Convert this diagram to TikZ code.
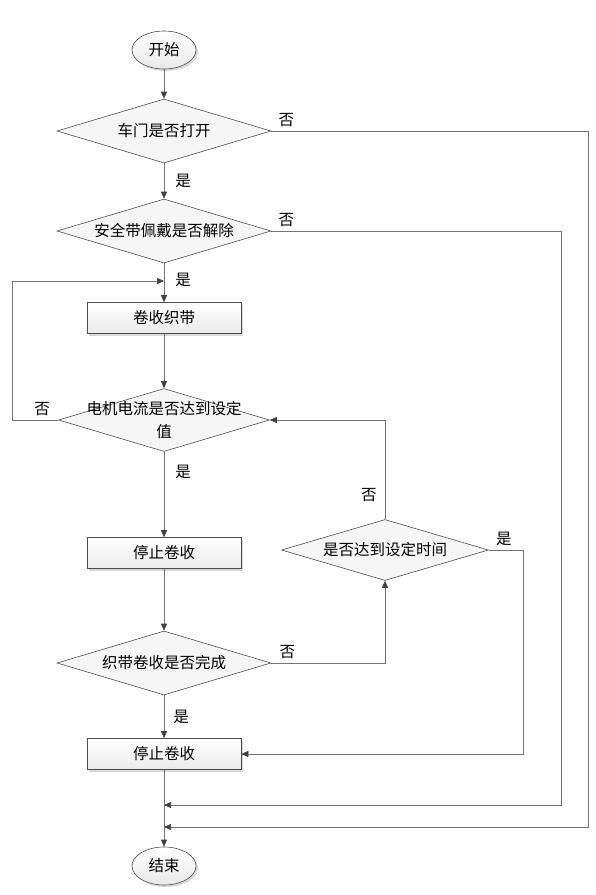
\documentclass[tikz,border=0pt]{standalone}
\usepackage{fontspec}
\newfontfamily\cjk{Noto Sans CJK SC}
\usetikzlibrary{shapes.geometric,arrows.meta,shadows}

\begin{document}
\begin{tikzpicture}[x=1pt, y=-1pt, line width=0.6pt,
  font=\cjk\fontsize{15.5}{23}\selectfont,
  terminal/.style={ellipse, draw=black!70, top color=white, bottom color=gray!18,
    minimum width=64pt, minimum height=38pt, inner sep=0pt,
    drop shadow={shadow xshift=2pt, shadow yshift=-2pt, fill=black!30}},
  process/.style={rectangle, draw=black!70, top color=white, bottom color=gray!16,
    minimum width=154pt, minimum height=31pt, inner sep=0pt,
    drop shadow={shadow xshift=2pt, shadow yshift=-2pt, fill=black!30}},
  decision/.style={diamond, aspect=3.34, draw=black!70, fill=gray!7, inner sep=0pt,
    minimum width=214pt, minimum height=64pt},
  flow/.style={draw=black!55, -{Triangle[length=7pt, width=6pt, color=black!75]}},
  lbl/.style={inner sep=4pt}]
  \useasboundingbox (0,0) rectangle (595,895);

  % nodes
  \node[terminal] (start) at (164,50) {开始};
  \node[decision] (door) at (164,131) {车门是否打开};
  \node[decision] (belt) at (164,231) {安全带佩戴是否解除};
  \node[process] (wind) at (164,318) {卷收织带};
  \node[decision, minimum width=211pt, minimum height=63pt] (motor) at (164,420)
    {\smash{\raisebox{-5pt}{\begin{tabular}{@{}c@{}}电机电流是否达到设定\\值\end{tabular}}}};
  \node[process] (stop1) at (164,553) {停止卷收};
  \node[decision, minimum width=207pt, minimum height=61pt] (timer) at (385,550) {是否达到设定时间};
  \node[decision] (done) at (164,663) {织带卷收是否完成};
  \node[process] (stop2) at (164,754) {停止卷收};
  \node[terminal] (end) at (164,866) {结束};

  \coordinate (loop) at (164,281);
  \coordinate (m1) at (164,805);
  \coordinate (m2) at (164,827);

  % main line
  \draw[flow] (start) -- (door);
  \draw[flow] (door) -- node[lbl, right=7pt] {是} (belt);
  \draw[flow] (belt) -- node[lbl, pos=0.42, right=7pt] {是} (wind);
  \draw[flow] (wind) -- (motor);
  \draw[flow] (motor) -- node[lbl, pos=0.23, right=7pt] {是} (stop1);
  \draw[flow] (stop1) -- (done);
  \draw[flow] (done) -- node[lbl, right=5pt] {是} (stop2);
  \draw[flow] (stop2) -- (end);

  % branches
  \draw[flow] (door.east) node[lbl, anchor=south west, xshift=3pt] {否} -- ++(317,0) |- (m2);
  \draw[flow] (belt.east) node[lbl, anchor=south west, xshift=3pt] {否} -- ++(290,0) |- (m1);
  \draw[flow] (motor.west) node[lbl, anchor=south east, xshift=-4pt] {否} -- ++(-46,0) |- (loop);
  \draw[flow] (done.east) node[lbl, anchor=south west, xshift=4pt] {否} -| (timer.south);
  \draw[flow] (timer.north) |- node[lbl, pos=0.12, left=4pt] {否} (motor.east);
  \draw[flow] (timer.east) node[lbl, anchor=south west, xshift=3pt] {是} -- ++(34,0) |- (stop2.east);
\end{tikzpicture}
\end{document}
